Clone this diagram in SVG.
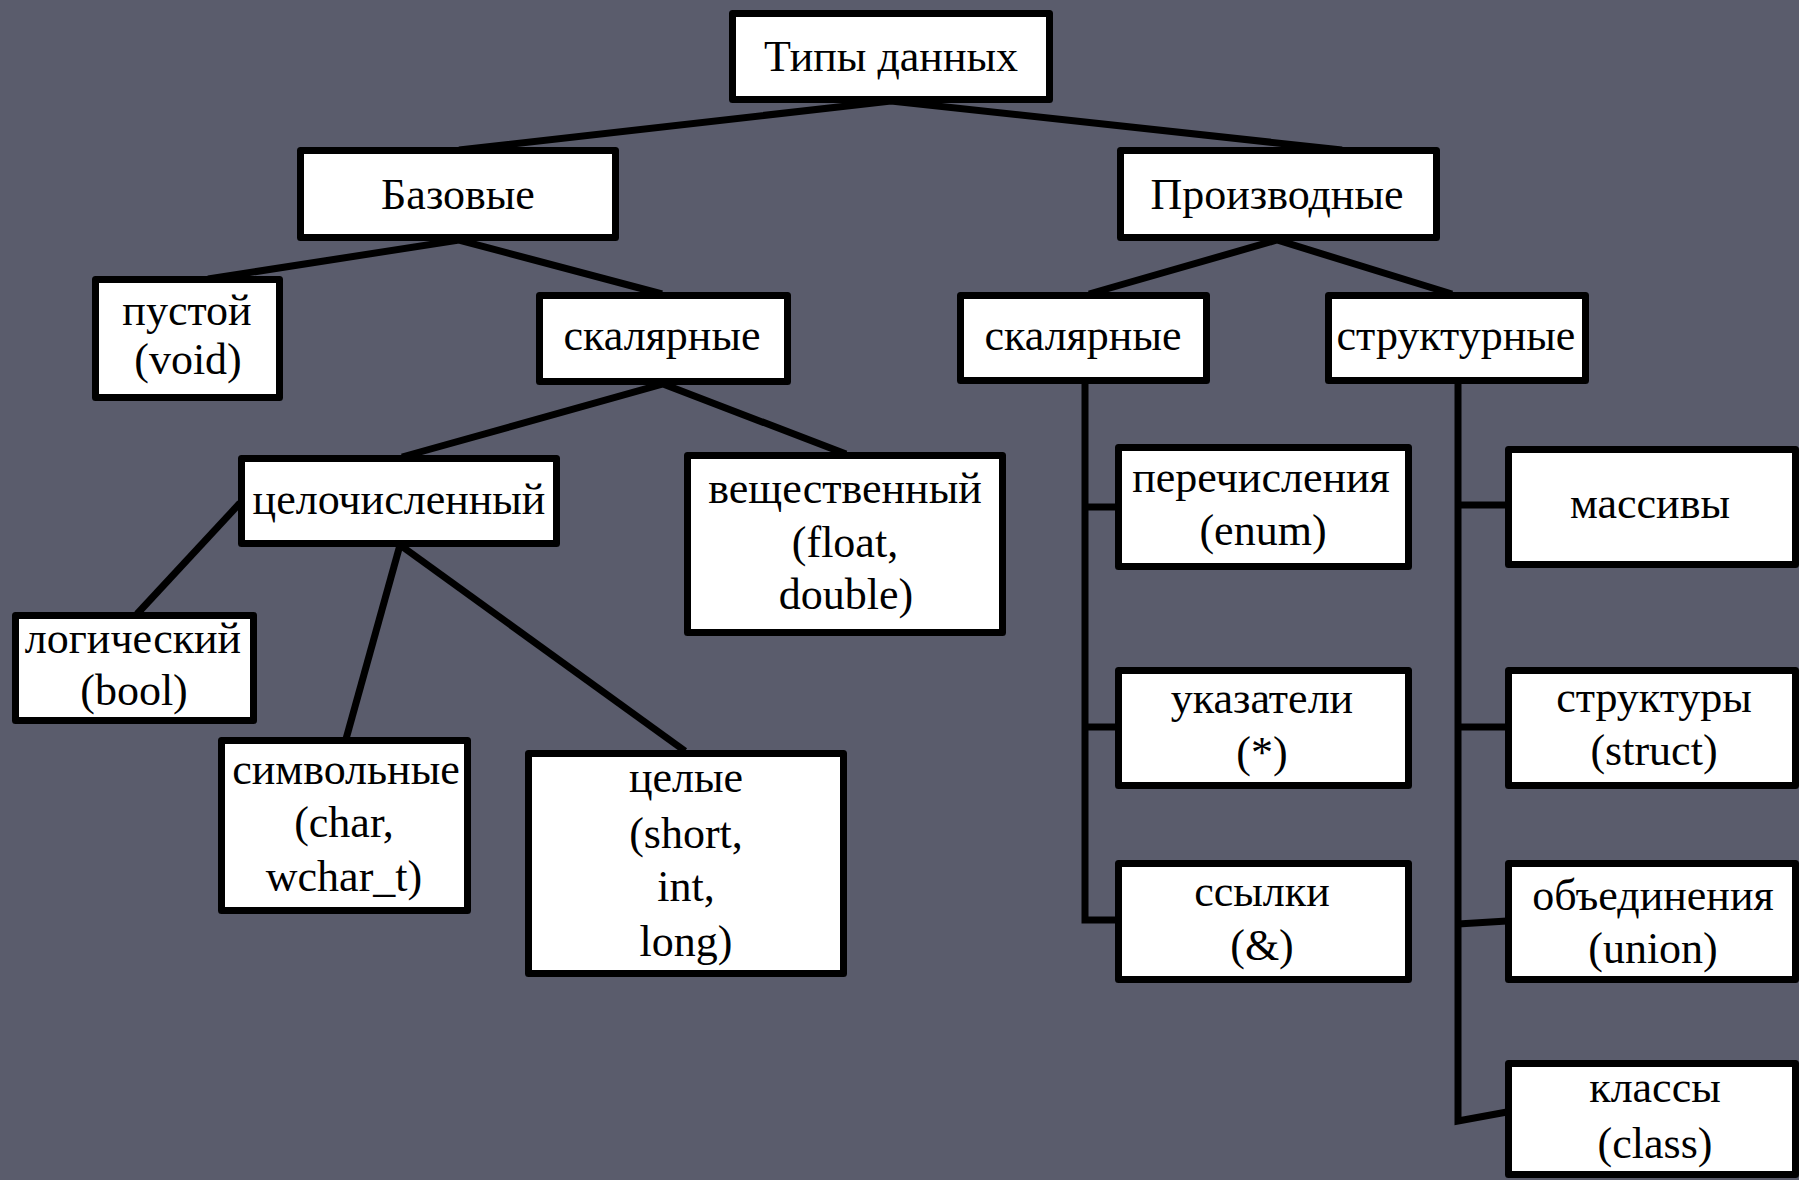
<svg xmlns="http://www.w3.org/2000/svg" width="1799" height="1180" viewBox="0 0 1799 1180">
<style>
.bg{fill:#5a5c6c}
.box{fill:#ffffff;stroke:#000000;stroke-width:7;stroke-linejoin:round}
.ln{fill:none;stroke:#000000;stroke-width:7;stroke-linecap:butt;stroke-linejoin:miter}
text{font-family:"Liberation Serif","Times New Roman",serif;font-size:44px;fill:#000000;text-anchor:middle}
</style>
<rect class="bg" x="0" y="0" width="1799" height="1180"/>
<g id="connectors">
<polyline class="ln" points="459,150 891,101 1342,150"/>
<polyline class="ln" points="208,279 459,240 662,294"/>
<polyline class="ln" points="402,457 663,384 846,454"/>
<line class="ln" x1="240" y1="503" x2="137" y2="614"/>
<line class="ln" x1="400" y1="545" x2="346" y2="739"/>
<line class="ln" x1="400" y1="545" x2="685" y2="751"/>
<polyline class="ln" points="1089,294 1277,240 1452,294"/>
<polyline class="ln" points="1085,383 1085,920 1118,920"/>
<line class="ln" x1="1085" y1="507" x2="1118" y2="507"/>
<line class="ln" x1="1085" y1="727" x2="1118" y2="727"/>
<polyline class="ln" points="1458,383 1458,1121 1507,1112"/>
<line class="ln" x1="1458" y1="505" x2="1507" y2="505"/>
<line class="ln" x1="1458" y1="727" x2="1507" y2="727"/>
<line class="ln" x1="1458" y1="924" x2="1507" y2="921"/>
</g>
<g id="n-tipy"><rect class="box" x="732.5" y="13.5" width="317" height="86"/><text x="891" y="71">Типы данных</text></g>
<g id="n-bazovye"><rect class="box" x="300.5" y="150.5" width="315" height="87"/><text x="458" y="209">Базовые</text></g>
<g id="n-proizvodnye"><rect class="box" x="1120.5" y="150.5" width="316" height="87"/><text x="1277" y="209">Производные</text></g>
<g id="n-pustoy"><rect class="box" x="95.5" y="279.5" width="184" height="118"/><text x="187" y="325">пустой</text><text x="188" y="374">(void)</text></g>
<g id="n-skalyarnye-b"><rect class="box" x="539.5" y="295.5" width="248" height="86"/><text x="662" y="350">скалярные</text></g>
<g id="n-skalyarnye-p"><rect class="box" x="960.5" y="295.5" width="246" height="85"/><text x="1083" y="350">скалярные</text></g>
<g id="n-strukturnye"><rect class="box" x="1328.5" y="295.5" width="257" height="85"/><text x="1456" y="350">структурные</text></g>
<g id="n-celochislennyy"><rect class="box" x="241.5" y="458.5" width="315" height="85"/><text x="399" y="514">целочисленный</text></g>
<g id="n-veshchestvennyy"><rect class="box" x="687.5" y="455.5" width="315" height="177"/><text x="845" y="503">вещественный</text><text x="845" y="557">(float,</text><text x="846" y="609">double)</text></g>
<g id="n-logicheskiy"><rect class="box" x="15.5" y="615.5" width="238" height="105"/><text x="133" y="653">логический</text><text x="134" y="705">(bool)</text></g>
<g id="n-simvolnye"><rect class="box" x="221.5" y="740.5" width="246" height="170"/><text x="346" y="784">символьные</text><text x="344" y="837">(char,</text><text x="344" y="891">wchar_t)</text></g>
<g id="n-celye"><rect class="box" x="528.5" y="753.5" width="315" height="220"/><text x="686" y="792">целые</text><text x="686" y="848">(short,</text><text x="686" y="901">int,</text><text x="686" y="956">long)</text></g>
<g id="n-perechisleniya"><rect class="box" x="1118.5" y="447.5" width="290" height="119"/><text x="1261" y="492">перечисления</text><text x="1263" y="545">(enum)</text></g>
<g id="n-ukazateli"><rect class="box" x="1118.5" y="670.5" width="290" height="115"/><text x="1262" y="713">указатели</text><text x="1262" y="767">(*)</text></g>
<g id="n-ssylki"><rect class="box" x="1118.5" y="863.5" width="290" height="116"/><text x="1262" y="906">ссылки</text><text x="1262" y="960">(&amp;)</text></g>
<g id="n-massivy"><rect class="box" x="1508.5" y="449.5" width="287" height="115"/><text x="1650" y="518">массивы</text></g>
<g id="n-struktury"><rect class="box" x="1508.5" y="670.5" width="287" height="115"/><text x="1654" y="712">структуры</text><text x="1654" y="765">(struct)</text></g>
<g id="n-obedineniya"><rect class="box" x="1508.5" y="863.5" width="287" height="116"/><text x="1653" y="910">объединения</text><text x="1653" y="963">(union)</text></g>
<g id="n-klassy"><rect class="box" x="1508.5" y="1063.5" width="287" height="111"/><text x="1655" y="1102">классы</text><text x="1655" y="1158">(class)</text></g>
</svg>
